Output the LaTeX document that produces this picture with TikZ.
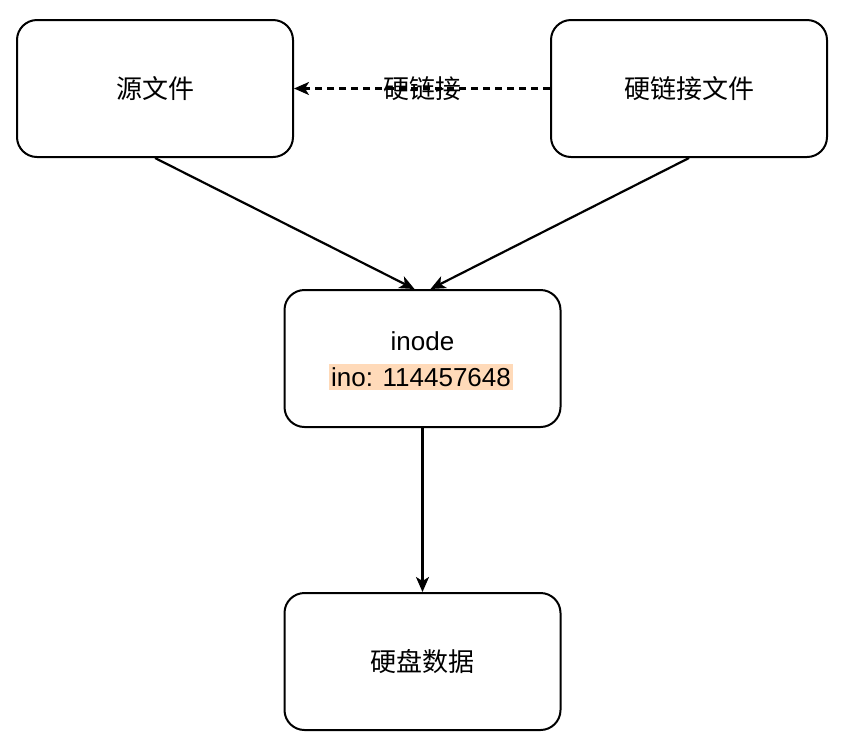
\documentclass[tikz,border=0pt]{standalone}
\usepackage{fontspec}
\setmainfont{Liberation Sans}
\newfontfamily\cjk{Noto Sans CJK SC}
\usetikzlibrary{arrows.meta}
\definecolor{hl}{RGB}{255,218,185}
\begin{document}
\begin{tikzpicture}[x=1pt,y=-1pt,
  box/.style={draw=black,line width=2pt,rounded corners=20pt,minimum width=276pt,minimum height=137pt,inner sep=0pt,align=center,font=\fontsize{26}{32}\selectfont},
  conn/.style={line width=2.2pt,-{Stealth[length=15pt,width=13pt,inset=4pt]}}]
\useasboundingbox (0,0) rectangle (848,748);
\node[box] (src) at (155,88.5) {\cjk 源文件};
\node[box] (hl) at (689,88.5) {\cjk 硬链接文件};
\node[box] (ino) at (422.5,358.5) {};
\node[font=\fontsize{26}{32}\selectfont] (inot) at (422.5,341) {inode};
\node[font=\fontsize{26}{32}\selectfont,fill=hl,inner xsep=2pt,inner ysep=3pt] (inon) at (421,377) {ino: 114457648};
\node[box] (disk) at (422.5,661.5) {\cjk 硬盘数据};
\coordinate (tl) at ([xshift=-8pt]ino.north);
\coordinate (tr) at ([xshift=8pt]ino.north);
\draw[conn,dash pattern=on 7pt off 5pt] (hl.west) -- (src.east) node[midway,font=\cjk\fontsize{26}{32}\selectfont] (lbl) {硬链接};
\draw[conn] (src.south) -- (tl);
\draw[conn] (hl.south) -- (tr);
\draw[conn] (ino.south) -- (disk.north);
\end{tikzpicture}
\end{document}
